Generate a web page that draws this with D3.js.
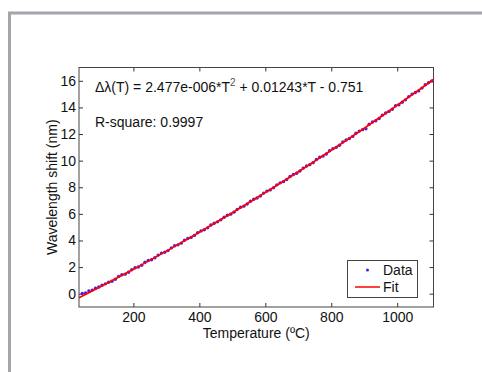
<!DOCTYPE html>
<html>
<head>
<meta charset="utf-8">
<script src="https://cdn.jsdelivr.net/npm/d3@7"></script>
<style>
  body { margin: 0; background: #fff; }
  svg text { font-family: "Liberation Sans", Arial, sans-serif; fill: #111; }
</style>
</head>
<body>
<div id="chart"></div>
<script>
// measured points (temperature in degC, shift in nm)
const dataT = [45, 55, 65, 75, 85, 95, 105, 115, 125, 135, 145, 155, 165, 175, 185, 195,
  205, 215, 225, 235, 245, 255, 265, 275, 285, 295, 305, 315, 325, 335, 345, 355, 365, 375, 385, 395,
  405, 415, 425, 435, 445, 455, 465, 475, 485, 495, 505, 515, 525, 535, 545, 555, 565, 575, 585, 595,
  605, 615, 625, 635, 645, 655, 665, 675, 685, 695, 705, 715, 725, 735, 745, 755, 765, 775, 785, 795,
  805, 815, 825, 835, 845, 855, 865, 875, 885, 895, 905, 915, 925, 935, 945, 955, 965, 975, 985, 995,
  1005, 1015, 1025, 1035, 1045, 1055, 1065, 1075, 1085, 1095, 1105];
const dataY = [0.02, 0.05, 0.21, 0.27, 0.41, 0.50, 0.64, 0.74, 0.86, 0.93, 1.08, 1.30, 1.42, 1.47, 1.61, 1.80,
  1.95, 2.01, 2.14, 2.36, 2.49, 2.55, 2.70, 2.90, 3.05, 3.11, 3.24, 3.44, 3.60, 3.67, 3.80, 4.02, 4.15, 4.23, 4.38, 4.58,
  4.72, 4.81, 4.95, 5.16, 5.30, 5.40, 5.55, 5.75, 5.90, 5.98, 6.13, 6.34, 6.50, 6.58, 6.74, 6.95, 7.10, 7.19, 7.34, 7.56,
  7.71, 7.80, 7.96, 8.18, 8.33, 8.42, 8.58, 8.81, 8.96, 9.05, 9.22, 9.44, 9.60, 9.70, 9.85, 10.09, 10.25, 10.34, 10.50, 10.74,
  10.90, 11.00, 11.16, 11.40, 11.55, 11.66, 11.82, 12.06, 12.22, 12.33, 12.40, 12.74, 12.90, 13.00, 13.17, 13.42, 13.58, 13.70, 13.86, 14.12,
  14.20, 14.39, 14.57, 14.81, 15.00, 15.12, 15.24, 15.45, 15.70, 15.85, 15.99];

// quadratic fit curve, read at a few temperatures
const fitT = [35, 100, 200, 300, 400, 500, 600, 700, 800, 900, 1000, 1110];
const fitY = [-0.31, 0.52, 1.83, 3.20, 4.62, 6.08, 7.60, 9.16, 10.78, 12.44, 14.16, 16.10];

const xTicks = [200, 400, 600, 800, 1000];
const yTicks = [0, 2, 4, 6, 8, 10, 12, 14, 16];

const width = 482, height = 372;
const margin = {left: 79, top: 67.5, right: 48.5, bottom: 65};
const w = width - margin.left - margin.right;
const h = height - margin.top - margin.bottom;
const fs = '14px';

const svg = d3.select('#chart').append('svg')
  .attr('width', width).attr('height', height);

// outer window frame
svg.append('path')
  .attr('d', 'M9.5,' + height + ' V13 H' + width)
  .attr('fill', 'none')
  .attr('stroke', '#a2a6ab')
  .attr('stroke-width', 3);

const x = d3.scaleLinear().domain([35, 1110]).range([0, w]);
const y = d3.scaleLinear().domain([-1, 17]).range([h, 0]);

const g = svg.append('g')
  .attr('transform', 'translate(' + margin.left + ',' + margin.top + ')');

// axes with inward ticks, mirrored on top and right
const styleAxis = (sel) => {
  sel.select('.domain').remove();
  sel.selectAll('.tick line').attr('stroke', '#333');
  sel.selectAll('.tick text').attr('font-size', fs).attr('fill', '#111');
};

g.append('g').attr('transform', 'translate(0,' + h + ')')
  .call(d3.axisBottom(x).tickValues(xTicks).tickFormat(d3.format('d')).tickSizeInner(-4).tickPadding(5).tickSizeOuter(0))
  .call(styleAxis);
g.append('g')
  .call(d3.axisTop(x).tickValues(xTicks).tickSizeInner(-4).tickFormat('').tickSizeOuter(0))
  .call(styleAxis);
g.append('g')
  .call(d3.axisLeft(y).tickValues(yTicks).tickSizeInner(-4).tickPadding(3).tickSizeOuter(0))
  .call(styleAxis);
g.append('g').attr('transform', 'translate(' + w + ',0)')
  .call(d3.axisRight(y).tickValues(yTicks).tickSizeInner(-4).tickFormat('').tickSizeOuter(0))
  .call(styleAxis);

g.selectAll('.tick text').style('font-family', '"Liberation Sans", Arial, sans-serif');

g.append('rect')
  .attr('width', w).attr('height', h)
  .attr('fill', 'none').attr('stroke', '#444').attr('stroke-width', 1);

// data dots
const pts = dataT.map((t, i) => ({t: t, v: dataY[i]}));
g.append('g').selectAll('circle').data(pts).enter()
  .append('circle')
  .attr('cx', (d) => x(d.t))
  .attr('cy', (d) => y(d.v))
  .attr('r', 1.7)
  .attr('fill', '#4a1fdc');

// fit line
const line = d3.line()
  .x((d) => x(d.t))
  .y((d) => y(d.v))
  .curve(d3.curveMonotoneX);
g.append('path')
  .datum(fitT.map((t, i) => ({t: t, v: fitY[i]})))
  .attr('d', line)
  .attr('fill', 'none')
  .attr('stroke', '#ff0000')
  .attr('stroke-width', 1.7);

// annotations
const eq = g.append('text').attr('x', 16).attr('y', 24).attr('font-size', fs);
eq.append('tspan').text('\u0394\u03bb(T) = 2.477e-006*T');
eq.append('tspan').attr('font-size', '10px').attr('fill', '#555').attr('dy', -6).text('2');
eq.append('tspan').attr('dy', 6).text(' + 0.01243*T - 0.751');

g.append('text').attr('x', 16).attr('y', 59).attr('font-size', fs)
  .text('R-square: 0.9997');

// axis titles
svg.append('text')
  .attr('x', margin.left + w / 2).attr('y', 338)
  .attr('text-anchor', 'middle').attr('font-size', fs)
  .text('Temperature (\u00baC)');
svg.append('text')
  .attr('transform', 'translate(57,' + (margin.top + h / 2) + ') rotate(-90)')
  .attr('text-anchor', 'middle').attr('font-size', fs)
  .text('Wavelength shift (nm)');

// legend
const lg = svg.append('g').attr('transform', 'translate(347,260)');
lg.append('rect').attr('x', 0.5).attr('y', 0.5).attr('width', 70).attr('height', 37)
  .attr('fill', '#fff').attr('stroke', '#444');
lg.append('circle').attr('cx', 20.5).attr('cy', 10).attr('r', 1.5).attr('fill', '#4a1fdc');
lg.append('line').attr('x1', 8).attr('x2', 33).attr('y1', 27).attr('y2', 27)
  .attr('stroke', '#ff0000').attr('stroke-width', 1.5);
lg.append('text').attr('x', 36).attr('y', 14.5).attr('font-size', fs).text('Data');
lg.append('text').attr('x', 36).attr('y', 32).attr('font-size', fs).text('Fit');
</script>
</body>
</html>
